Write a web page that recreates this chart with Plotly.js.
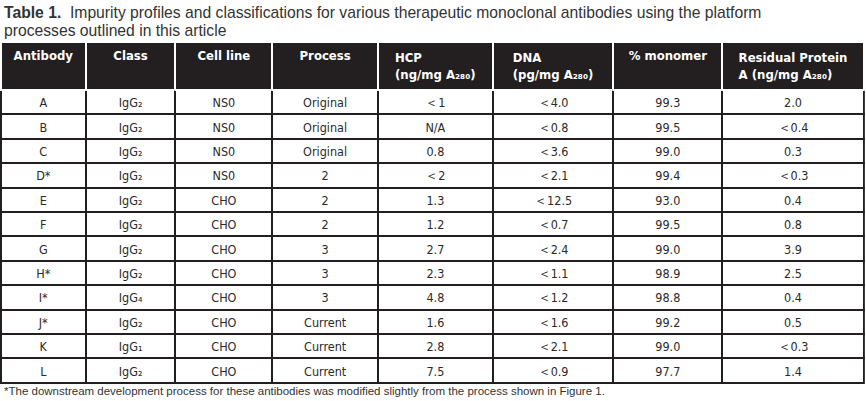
<!DOCTYPE html>
<html><head><meta charset="utf-8">
<script src="https://cdn.plot.ly/plotly-3.0.1.min.js"></script>
<style>html,body{margin:0;padding:0;background:#fff;}#chart{width:866px;height:401px;}
#chart .table text{font-stretch:condensed;}</style>
</head><body><div id="chart"></div>
<script>
const NB = '\u00a0';
const LT = '\uff1c';
const headers = ['Antibody','Class','Cell' + NB + 'line','Process','HCP<br>(ng/mg A₂₈₀)','DNA<br>(pg/mg A₂₈₀)','%' + NB + 'monomer','Residual Protein<br>A (ng/mg A₂₈₀)'];
const antibody = ['A','B','C','D*','E','F','G','H*','I*','J*','K','L'];
const abClass = ['IgG₂','IgG₂','IgG₂','IgG₂','IgG₂','IgG₂','IgG₂','IgG₂','IgG₄','IgG₂','IgG₁','IgG₂'];
const cellLine = ['NS0','NS0','NS0','NS0','CHO','CHO','CHO','CHO','CHO','CHO','CHO','CHO'];
const process = ['Original','Original','Original','2','2','2','3','3','3','Current','Current','Current'];
const hcp = [LT+'1','N/A','0.8',LT+'2','1.3','1.2','2.7','2.3','4.8','1.6','2.8','7.5'];
const dna = [LT+'4.0',LT+'0.8',LT+'3.6',LT+'2.1',LT+'12.5',LT+'0.7',LT+'2.4',LT+'1.1',LT+'1.2',LT+'1.6',LT+'2.1',LT+'0.9'];
const monomer = ['99.3','99.5','99.0','99.4','93.0','99.5','99.0','98.9','98.8','99.2','99.0','97.7'];
const proteinA = ['2.0',LT+'0.4','0.3',LT+'0.3','0.4','0.8','3.9','2.5','0.4','0.5',LT+'0.3','1.4'];
const titleLine1 = '<b>Table 1.</b>  Impurity profiles and classifications for various therapeutic monoclonal antibodies using the platform';
const titleLine2 = 'processes outlined in this article';
const footnote = '*The downstream development process for these antibodies was modified slightly from the process shown in Figure 1.';

const W = 866, H = 401;
const trace = {
  type: 'table',
  domain: {x: [0.001, 0.9985], y: [0.0, 1 - 42/H]},
  columnwidth: [85, 90, 97, 106, 115, 121, 109, 142],
  header: {
    values: headers,
    align: 'center',
    height: 41,
    fill: {color: '#231f20'},
    line: {color: '#ffffff', width: 2},
    font: {family: 'DejaVu Sans', size: 13, color: '#ffffff', weight: 'bold'}
  },
  cells: {
    values: [antibody, abClass, cellLine, process, hcp, dna, monomer, proteinA],
    align: 'center',
    height: 24.4,
    fill: {color: '#ffffff'},
    line: {color: '#231f20', width: 2},
    font: {family: 'DejaVu Sans', size: 12.5, color: '#2a2a2a'}
  }
};
const layout = {
  width: W, height: H,
  margin: {l: 0, r: 0, t: 0, b: 0},
  paper_bgcolor: '#ffffff',
  annotations: [
    {text: titleLine1, xref: 'paper', yref: 'paper', x: 0.002, y: 1 - 12/H, xanchor: 'left', yanchor: 'middle', align: 'left', showarrow: false,
     font: {family: 'Liberation Sans, Arial, sans-serif', size: 15.7, color: '#333333'}},
    {text: titleLine2, xref: 'paper', yref: 'paper', x: 0.002, y: 1 - 30/H, xanchor: 'left', yanchor: 'middle', align: 'left', showarrow: false,
     font: {family: 'Liberation Sans, Arial, sans-serif', size: 15.7, color: '#333333'}},
    {text: footnote, xref: 'paper', yref: 'paper', x: 0.002, y: 1 - 391/H, xanchor: 'left', yanchor: 'middle', align: 'left', showarrow: false,
     font: {family: 'Liberation Sans, Arial, sans-serif', size: 11.5, color: '#333333'}}
  ]
};
Plotly.newPlot('chart', [trace], layout, {displayModeBar: false, staticPlot: true});
</script></body></html>
